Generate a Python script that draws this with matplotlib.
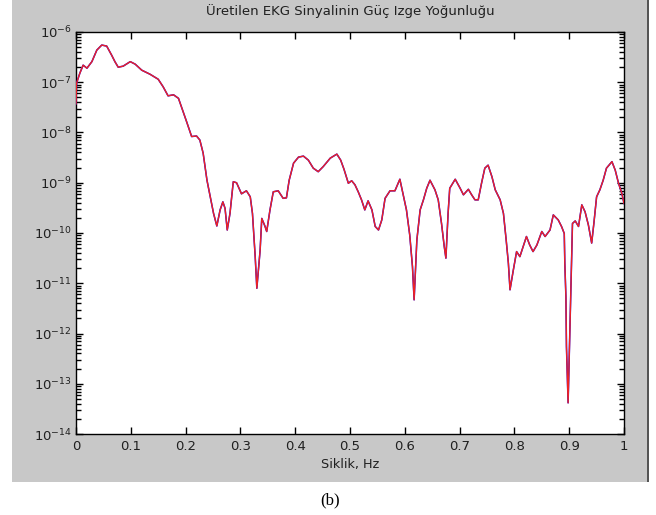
import numpy as np
import matplotlib
matplotlib.use("Agg")
import matplotlib.pyplot as plt
from matplotlib.patches import Rectangle
from matplotlib.ticker import FixedLocator, FuncFormatter, NullFormatter

# Frequency (Hz) and log10 of power spectral density
freq = [0.000, 0.001, 0.007, 0.013, 0.020, 0.029, 0.038, 0.047, 0.056, 0.065,
        0.071, 0.077, 0.086, 0.099, 0.108, 0.120, 0.135, 0.150, 0.159, 0.168,
        0.178, 0.187, 0.202, 0.211, 0.220, 0.226, 0.232, 0.239, 0.245, 0.251,
        0.257, 0.263, 0.268, 0.272, 0.276, 0.281, 0.287, 0.293, 0.302, 0.311,
        0.318, 0.322, 0.327, 0.330, 0.336, 0.339, 0.345, 0.348, 0.354, 0.360,
        0.369, 0.378, 0.384, 0.389, 0.397, 0.406, 0.415, 0.424, 0.433, 0.442,
        0.451, 0.464, 0.476, 0.483, 0.489, 0.497, 0.503, 0.509, 0.515, 0.521,
        0.527, 0.533, 0.540, 0.546, 0.552, 0.558, 0.564, 0.573, 0.582, 0.591,
        0.597, 0.603, 0.609, 0.614, 0.617, 0.622, 0.628, 0.634, 0.640, 0.646,
        0.655, 0.661, 0.667, 0.672, 0.675, 0.679, 0.682, 0.692, 0.701, 0.707,
        0.716, 0.722, 0.728, 0.734, 0.740, 0.746, 0.752, 0.759, 0.765, 0.774,
        0.780, 0.785, 0.789, 0.792, 0.798, 0.804, 0.810, 0.816, 0.822, 0.828,
        0.834, 0.841, 0.850, 0.856, 0.865, 0.871, 0.880, 0.886, 0.891, 0.892,
        0.894, 0.895, 0.898, 0.901, 0.903, 0.906, 0.911, 0.917, 0.923, 0.929,
        0.935, 0.941, 0.945, 0.950, 0.956, 0.962, 0.968, 0.978, 0.984, 0.990,
        0.996, 1.000]
psd_exp = [-7.43, -7.02, -6.82, -6.66, -6.72, -6.59, -6.36, -6.26, -6.28, -6.46,
           -6.59, -6.70, -6.68, -6.59, -6.64, -6.76, -6.84, -6.94, -7.09, -7.27,
           -7.25, -7.32, -7.79, -8.08, -8.07, -8.15, -8.41, -8.95, -9.28, -9.61,
           -9.86, -9.54, -9.38, -9.51, -9.94, -9.61, -8.98, -9.00, -9.22, -9.16,
           -9.28, -9.61, -10.47, -11.10, -10.34, -9.71, -9.87, -9.97, -9.54, -9.18,
           -9.16, -9.31, -9.30, -8.95, -8.61, -8.49, -8.47, -8.55, -8.71, -8.78,
           -8.68, -8.51, -8.43, -8.55, -8.73, -9.01, -8.96, -9.04, -9.18, -9.34,
           -9.54, -9.36, -9.54, -9.87, -9.94, -9.74, -9.31, -9.16, -9.16, -8.93,
           -9.24, -9.54, -10.04, -10.67, -11.33, -10.14, -9.54, -9.34, -9.11, -8.95,
           -9.14, -9.34, -9.81, -10.27, -10.50, -9.61, -9.11, -8.93, -9.11, -9.24,
           -9.13, -9.24, -9.34, -9.34, -9.01, -8.71, -8.65, -8.88, -9.14, -9.34,
           -9.61, -10.14, -10.60, -11.13, -10.74, -10.37, -10.47, -10.27, -10.07, -10.24,
           -10.37, -10.24, -9.97, -10.07, -9.94, -9.64, -9.74, -9.87, -10.01, -10.60,
           -11.27, -12.26, -13.38, -12.06, -11.13, -9.81, -9.76, -9.87, -9.44, -9.58,
           -9.84, -10.20, -9.81, -9.28, -9.14, -8.95, -8.71, -8.58, -8.75, -9.01,
           -9.21, -9.41]

title_text = "Üretilen EKG Sinyalinin Güç Izge Yoğunluğu"
xlabel_text = "Siklik, Hz"
caption_text = "(b)"
xticks = [0, 0.1, 0.2, 0.3, 0.4, 0.5, 0.6, 0.7, 0.8, 0.9, 1]
xtick_labels = ["0", "0.1", "0.2", "0.3", "0.4", "0.5", "0.6", "0.7", "0.8", "0.9", "1"]
yexps = [-14, -13, -12, -11, -10, -9, -8, -7, -6]

W, H = 656, 515
fig = plt.figure(figsize=(W / 100, H / 100), dpi=100)
fig.patch.set_facecolor("white")

# gray MATLAB figure panel
panel = Rectangle((12 / W, 1 - 482 / H), (648 - 12) / W, 482 / H,
                  transform=fig.transFigure, facecolor="#c8c8c8",
                  edgecolor="none", zorder=-10)
fig.patches.append(panel)
border = Rectangle((647 / W, 1 - 482 / H), 2 / W, 482 / H,
                   transform=fig.transFigure, facecolor="#555555",
                   edgecolor="none", zorder=-10)
fig.patches.append(border)

ax = fig.add_axes([76 / W, 1 - 434 / H, (624 - 76) / W, (434 - 32) / H])
ax.set_zorder(5)
ax.set_facecolor("white")

yvals = [10.0 ** e for e in psd_exp]
ax.plot(freq, yvals, color="#0000ff", lw=1.1, zorder=3)
ax.plot(freq, yvals, color="#ee2222", lw=1.0, zorder=4)

ax.set_yscale("log")
ax.set_xlim(0, 1)
ax.set_ylim(1e-14, 1e-6)

ax.xaxis.set_major_locator(FixedLocator(xticks))
ax.set_xticklabels(xtick_labels)
ax.yaxis.set_major_locator(FixedLocator([10.0 ** e for e in yexps]))
ax.yaxis.set_major_formatter(FuncFormatter(lambda v, p: r"$10^{%d}$" % int(round(np.log10(v)))))
minor_locs = [m * 10.0 ** e for e in yexps[:-1] for m in range(2, 10)]
ax.yaxis.set_minor_locator(FixedLocator(minor_locs))
ax.yaxis.set_minor_formatter(NullFormatter())

ax.tick_params(axis="both", which="major", direction="in", length=5, width=1,
               top=True, right=True, labelsize=9.5, colors="black", labelcolor="#202020")
ax.tick_params(axis="y", which="minor", direction="in", length=3.5, width=1.0,
               left=True, right=True, color="black")
ax.tick_params(axis="x", which="major", pad=4)
ax.tick_params(axis="y", which="major", pad=3)
for s in ax.spines.values():
    s.set_linewidth(1.0)
    s.set_color("black")

ax.set_title(title_text, fontsize=9.5, color="#202020", pad=12,
             family="DejaVu Sans")
ax.set_xlabel(xlabel_text, fontsize=9.2, color="#202020", labelpad=4)

fig.text(330 / W, 1 - 500 / H, caption_text, ha="center", va="center",
         fontsize=12, family="Liberation Serif", color="black")

fig.savefig("out.png", dpi=100, facecolor=fig.get_facecolor())
